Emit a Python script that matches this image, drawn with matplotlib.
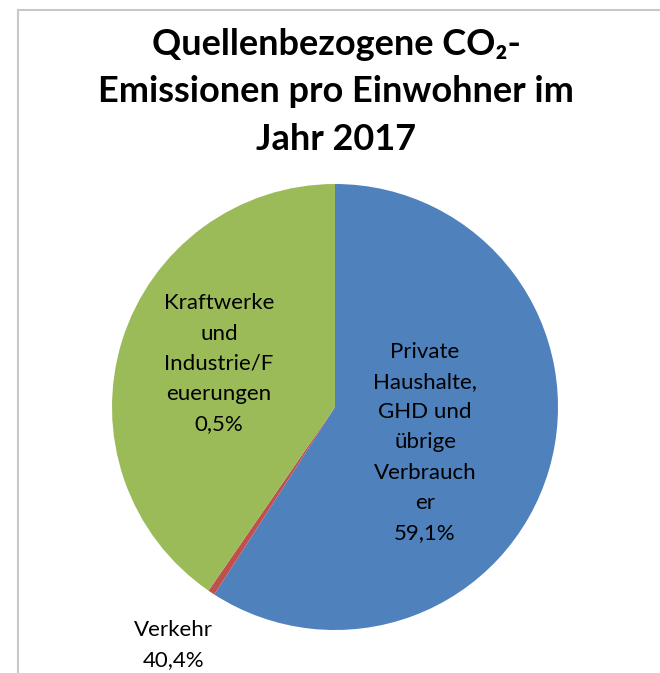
import matplotlib
matplotlib.use("Agg")
import matplotlib.pyplot as plt
from matplotlib.lines import Line2D

# Data
categories = ["Private Haushalte, GHD und übrige Verbraucher", "Verkehr", "Kraftwerke und Industrie/Feuerungen"]
values = [59.1, 0.5, 40.4]
colors = ["#4F81BD", "#C0504D", "#9BBB59"]
title = "Quellenbezogene CO₂-\nEmissionen pro Einwohner im\nJahr 2017"
label_texts = [
    "Private\nHaushalte,\nGHD und\nübrige\nVerbrauch\ner\n59,1%",
    "Verkehr\n40,4%",
    "Kraftwerke\nund\nIndustrie/F\neuerungen\n0,5%",
]

W, H = 660, 673
fig = plt.figure(figsize=(W / 100, H / 100), dpi=100)
fig.patch.set_facecolor("white")

# chart frame (light grey border, top-left visible)
fig.add_artist(Line2D([17.5 / W, 1.0], [1 - 9.5 / H, 1 - 9.5 / H], transform=fig.transFigure,
                      color="#C8C8C8", lw=1.5))
fig.add_artist(Line2D([17.5 / W, 17.5 / W], [0, 1 - 9.5 / H], transform=fig.transFigure,
                      color="#C8C8C8", lw=1.5))

cx, cy, r = 335, 407, 223
ax = fig.add_axes([(cx - r) / W, 1 - (cy + r) / H, 2 * r / W, 2 * r / H])
ax.pie(values, colors=colors, startangle=90, counterclock=False,
       wedgeprops=dict(linewidth=0), radius=1.0)
ax.set_xlim(-1, 1)
ax.set_ylim(-1, 1)
ax.set_aspect("equal")
ax.axis("off")

fam = ["Lato", "DejaVu Sans"]
pos = [(0.404, -0.159), (-0.726, -1.067), (-0.52, 0.193)]
for (x, y), t in zip(pos, label_texts):
    ax.text(x, y, t, ha="center", va="center", fontsize=16, family=fam,
            linespacing=1.64, color="black", clip_on=False)

fig.text(336 / W, 1 - 92 / H, title, ha="center", va="center", fontsize=26,
         fontweight="bold", family=fam, linespacing=1.53)

fig.savefig("out.png", dpi=100)
